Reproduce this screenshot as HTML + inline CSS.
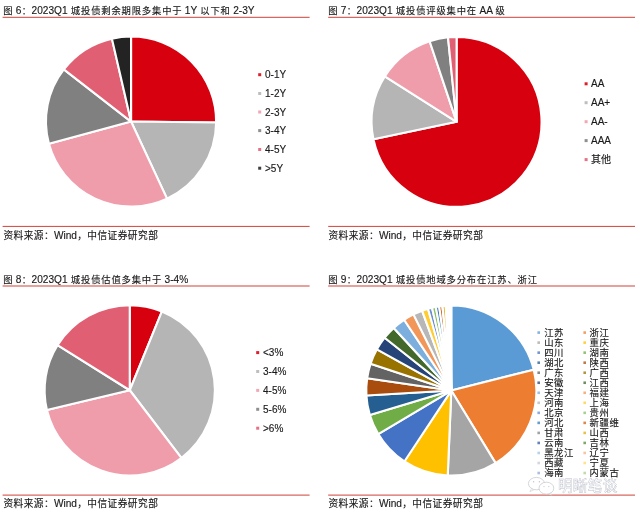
<!DOCTYPE html>
<html lang="zh-CN"><head><meta charset="utf-8"><title>城投债</title>
<style>
html,body{margin:0;padding:0;background:#fff;}
svg{display:block}
text{font-family:"Liberation Sans","Noto Sans CJK SC",sans-serif;}
</style></head>
<body>
<svg width="640" height="514" viewBox="0 0 640 514">
<rect width="640" height="514" fill="#fff"/>
<g stroke="#fff" stroke-width="2.1" stroke-linejoin="round">
<path d="M131.05 121.55L131.05 36.45A85.10 85.10 0 0 1 216.15 122.44Z" fill="#d7000f"/>
<path d="M131.05 121.55L216.15 122.44A85.10 85.10 0 0 1 167.01 198.68Z" fill="#b5b5b5"/>
<path d="M131.05 121.55L167.01 198.68A85.10 85.10 0 0 1 48.93 143.86Z" fill="#ef9cab"/>
<path d="M131.05 121.55L48.93 143.86A85.10 85.10 0 0 1 63.81 69.39Z" fill="#808080"/>
<path d="M131.05 121.55L63.81 69.39A85.10 85.10 0 0 1 111.91 38.63Z" fill="#e15f73"/>
<path d="M131.05 121.55L111.91 38.63A85.10 85.10 0 0 1 131.05 36.45Z" fill="#232323"/>
</g>
<g stroke="#fff" stroke-width="2.1" stroke-linejoin="round">
<path d="M456.60 121.80L456.60 36.85A84.95 84.95 0 1 1 373.45 139.17Z" fill="#d7000f"/>
<path d="M456.60 121.80L373.45 139.17A84.95 84.95 0 0 1 384.80 76.41Z" fill="#b5b5b5"/>
<path d="M456.60 121.80L384.80 76.41A84.95 84.95 0 0 1 429.64 41.24Z" fill="#ef9cab"/>
<path d="M456.60 121.80L429.64 41.24A84.95 84.95 0 0 1 448.02 37.28Z" fill="#808080"/>
<path d="M456.60 121.80L448.02 37.28A84.95 84.95 0 0 1 456.60 36.85Z" fill="#e15f73"/>
</g>
<g stroke="#fff" stroke-width="2.1" stroke-linejoin="round">
<path d="M129.75 390.25L129.75 305.10A85.15 85.15 0 0 1 161.92 311.41Z" fill="#d7000f"/>
<path d="M129.75 390.25L161.92 311.41A85.15 85.15 0 0 1 181.35 457.98Z" fill="#b5b5b5"/>
<path d="M129.75 390.25L181.35 457.98A85.15 85.15 0 0 1 46.92 409.98Z" fill="#ef9cab"/>
<path d="M129.75 390.25L46.92 409.98A85.15 85.15 0 0 1 57.54 345.13Z" fill="#808080"/>
<path d="M129.75 390.25L57.54 345.13A85.15 85.15 0 0 1 129.75 305.10Z" fill="#e15f73"/>
</g>
<g stroke="#fff" stroke-width="2.1" stroke-linejoin="round">
<path d="M451.30 390.55L451.30 305.50A85.05 85.05 0 0 1 533.75 369.69Z" fill="#5b9bd5"/>
<path d="M451.30 390.55L533.75 369.69A85.05 85.05 0 0 1 495.61 463.14Z" fill="#ed7d31"/>
<path d="M451.30 390.55L495.61 463.14A85.05 85.05 0 0 1 447.74 475.53Z" fill="#a5a5a5"/>
<path d="M451.30 390.55L447.74 475.53A85.05 85.05 0 0 1 404.36 461.47Z" fill="#ffc000"/>
<path d="M451.30 390.55L404.36 461.47A85.05 85.05 0 0 1 378.25 434.10Z" fill="#4472c4"/>
<path d="M451.30 390.55L378.25 434.10A85.05 85.05 0 0 1 369.84 414.99Z" fill="#70ad47"/>
<path d="M451.30 390.55L369.84 414.99A85.05 85.05 0 0 1 366.39 395.45Z" fill="#255e91"/>
<path d="M451.30 390.55L366.39 395.45A85.05 85.05 0 0 1 367.14 378.27Z" fill="#a84d0e"/>
<path d="M451.30 390.55L367.14 378.27A85.05 85.05 0 0 1 370.60 363.70Z" fill="#636363"/>
<path d="M451.30 390.55L370.60 363.70A85.05 85.05 0 0 1 376.91 349.32Z" fill="#997300"/>
<path d="M451.30 390.55L376.91 349.32A85.05 85.05 0 0 1 384.65 337.72Z" fill="#264478"/>
<path d="M451.30 390.55L384.65 337.72A85.05 85.05 0 0 1 393.73 327.94Z" fill="#43682b"/>
<path d="M451.30 390.55L393.73 327.94A85.05 85.05 0 0 1 404.11 319.79Z" fill="#7cafdd"/>
<path d="M451.30 390.55L404.11 319.79A85.05 85.05 0 0 1 413.48 314.37Z" fill="#f1975a"/>
<path d="M451.30 390.55L413.48 314.37A85.05 85.05 0 0 1 422.07 310.68Z" fill="#b7b7b7"/>
<path d="M451.30 390.55L422.07 310.68A85.05 85.05 0 0 1 428.00 308.75Z" fill="#ffcd33"/>
<path d="M451.30 390.55L428.00 308.75A85.05 85.05 0 0 1 432.02 307.71Z" fill="#698ed0"/>
<path d="M451.30 390.55L432.02 307.71A85.05 85.05 0 0 1 435.80 306.92Z" fill="#8cc168"/>
<path d="M451.30 390.55L435.80 306.92A85.05 85.05 0 0 1 439.17 306.37Z" fill="#327dc2"/>
<path d="M451.30 390.55L439.17 306.37A85.05 85.05 0 0 1 442.41 305.97Z" fill="#d26012"/>
<path d="M451.30 390.55L442.41 305.97A85.05 85.05 0 0 1 442.56 305.95Z" fill="#848484"/>
<path d="M451.30 390.55L442.56 305.95A85.05 85.05 0 0 1 445.66 305.69Z" fill="#e0ad10"/>
<path d="M451.30 390.55L445.66 305.69A85.05 85.05 0 0 1 446.70 305.62Z" fill="#335aa1"/>
<path d="M451.30 390.55L446.70 305.62A85.05 85.05 0 0 1 447.59 305.58Z" fill="#5a8a39"/>
<path d="M451.30 390.55L447.59 305.58A85.05 85.05 0 0 1 448.33 305.55Z" fill="#9dc3e6"/>
<path d="M451.30 390.55L448.33 305.55A85.05 85.05 0 0 1 449.07 305.53Z" fill="#f4b183"/>
<path d="M451.30 390.55L449.07 305.53A85.05 85.05 0 0 1 449.67 305.52Z" fill="#c9c9c9"/>
<path d="M451.30 390.55L449.67 305.52A85.05 85.05 0 0 1 450.26 305.51Z" fill="#ffd966"/>
<path d="M451.30 390.55L450.26 305.51A85.05 85.05 0 0 1 450.85 305.50Z" fill="#8faadc"/>
<path d="M451.30 390.55L450.85 305.50A85.05 85.05 0 0 1 451.30 305.50Z" fill="#a9d18e"/>
</g>
<g stroke="#cf4238" stroke-width="1"><line x1="2.6" y1="17.3" x2="309.6" y2="17.3"/><line x1="2.6" y1="226.4" x2="309.6" y2="226.4"/><line x1="2.6" y1="286.0" x2="309.6" y2="286.0"/><line x1="2.6" y1="495.1" x2="309.6" y2="495.1"/><line x1="328.2" y1="17.3" x2="635" y2="17.3"/><line x1="328.2" y1="226.4" x2="635" y2="226.4"/><line x1="328.2" y1="286.0" x2="635" y2="286.0"/><line x1="328.2" y1="495.1" x2="635" y2="495.1"/></g>
<g fill="#1a1a1a" stroke="#1a1a1a" stroke-width="0.14"><text x="2.8" y="14.4" font-size="10.15" ><tspan font-size="9.3" letter-spacing="0.85" dx="0.42" dy="-0.3">图</tspan><tspan dx="-0.42" dy="0.3"> 6</tspan><tspan font-size="9.3" letter-spacing="0.85" dx="0.42" dy="-0.3">：</tspan><tspan dx="-0.42" dy="0.3">2023Q1 </tspan><tspan font-size="9.3" letter-spacing="0.85" dx="0.42" dy="-0.3">城投债剩余期限多集中于</tspan><tspan dx="-0.42" dy="0.3"> 1Y </tspan><tspan font-size="9.3" letter-spacing="0.85" dx="0.42" dy="-0.3">以下和</tspan><tspan dx="-0.42" dy="0.3"> 2-3Y</tspan></text>
<text x="327.8" y="14.4" font-size="10.15" ><tspan font-size="9.3" letter-spacing="0.85" dx="0.42" dy="-0.3">图</tspan><tspan dx="-0.42" dy="0.3"> 7</tspan><tspan font-size="9.3" letter-spacing="0.85" dx="0.42" dy="-0.3">：</tspan><tspan dx="-0.42" dy="0.3">2023Q1 </tspan><tspan font-size="9.3" letter-spacing="0.85" dx="0.42" dy="-0.3">城投债评级集中在</tspan><tspan dx="-0.42" dy="0.3"> AA </tspan><tspan font-size="9.3" letter-spacing="0.85" dx="0.42" dy="-0.3">级</tspan></text>
<text x="2.8" y="283.2" font-size="10.15" ><tspan font-size="9.3" letter-spacing="0.85" dx="0.42" dy="-0.3">图</tspan><tspan dx="-0.42" dy="0.3"> 8</tspan><tspan font-size="9.3" letter-spacing="0.85" dx="0.42" dy="-0.3">：</tspan><tspan dx="-0.42" dy="0.3">2023Q1 </tspan><tspan font-size="9.3" letter-spacing="0.85" dx="0.42" dy="-0.3">城投债估值多集中于</tspan><tspan dx="-0.42" dy="0.3"> 3-4%</tspan></text>
<text x="327.8" y="283.2" font-size="10.15" ><tspan font-size="9.3" letter-spacing="0.85" dx="0.42" dy="-0.3">图</tspan><tspan dx="-0.42" dy="0.3"> 9</tspan><tspan font-size="9.3" letter-spacing="0.85" dx="0.42" dy="-0.3">：</tspan><tspan dx="-0.42" dy="0.3">2023Q1 </tspan><tspan font-size="9.3" letter-spacing="0.85" dx="0.42" dy="-0.3">城投债地域多分布在江苏、浙江</tspan></text>
<text x="3.2" y="239.3" font-size="10.15" ><tspan font-size="9.7" letter-spacing="0.45" dx="0.23" dy="-0.3">资料来源：</tspan><tspan dx="-0.23" dy="0.3">Wind</tspan><tspan font-size="9.7" letter-spacing="0.45" dx="0.23" dy="-0.3">，中信证券研究部</tspan></text>
<text x="3.2" y="507.2" font-size="10.15" ><tspan font-size="9.7" letter-spacing="0.45" dx="0.23" dy="-0.3">资料来源：</tspan><tspan dx="-0.23" dy="0.3">Wind</tspan><tspan font-size="9.7" letter-spacing="0.45" dx="0.23" dy="-0.3">，中信证券研究部</tspan></text>
<text x="328.2" y="239.3" font-size="10.15" ><tspan font-size="9.7" letter-spacing="0.45" dx="0.23" dy="-0.3">资料来源：</tspan><tspan dx="-0.23" dy="0.3">Wind</tspan><tspan font-size="9.7" letter-spacing="0.45" dx="0.23" dy="-0.3">，中信证券研究部</tspan></text>
<text x="328.2" y="507.2" font-size="10.15" ><tspan font-size="9.7" letter-spacing="0.45" dx="0.23" dy="-0.3">资料来源：</tspan><tspan dx="-0.23" dy="0.3">Wind</tspan><tspan font-size="9.7" letter-spacing="0.45" dx="0.23" dy="-0.3">，中信证券研究部</tspan></text>
<rect x="258.2" y="73.20" width="3" height="3" fill="#d7000f" fill-opacity="0.88" stroke="none"/><text x="265" y="78.30" font-size="10.0" >0-1Y</text><rect x="258.2" y="92.00" width="3" height="3" fill="#b5b5b5" fill-opacity="0.88" stroke="none"/><text x="265" y="97.10" font-size="10.0" >1-2Y</text><rect x="258.2" y="110.50" width="3" height="3" fill="#ef9cab" fill-opacity="0.88" stroke="none"/><text x="265" y="115.60" font-size="10.0" >2-3Y</text><rect x="258.2" y="129.10" width="3" height="3" fill="#808080" fill-opacity="0.88" stroke="none"/><text x="265" y="134.20" font-size="10.0" >3-4Y</text><rect x="258.2" y="148.00" width="3" height="3" fill="#e15f73" fill-opacity="0.88" stroke="none"/><text x="265" y="153.10" font-size="10.0" >4-5Y</text><rect x="258.2" y="166.70" width="3" height="3" fill="#232323" fill-opacity="0.88" stroke="none"/><text x="265" y="171.80" font-size="10.0" >&gt;5Y</text>
<rect x="584.6" y="82.30" width="3" height="3" fill="#d7000f" fill-opacity="0.88" stroke="none"/><text x="591" y="87.40" font-size="10.0" >AA</text><rect x="584.6" y="101.20" width="3" height="3" fill="#b5b5b5" fill-opacity="0.88" stroke="none"/><text x="591" y="106.30" font-size="10.0" >AA+</text><rect x="584.6" y="120.20" width="3" height="3" fill="#ef9cab" fill-opacity="0.88" stroke="none"/><text x="591" y="125.30" font-size="10.0" >AA-</text><rect x="584.6" y="139.10" width="3" height="3" fill="#808080" fill-opacity="0.88" stroke="none"/><text x="591" y="144.20" font-size="10.0" >AAA</text><rect x="584.6" y="158.10" width="3" height="3" fill="#e15f73" fill-opacity="0.88" stroke="none"/><text x="591" y="163.20" font-size="10.0" >其他</text>
<rect x="256.2" y="351.10" width="3" height="3" fill="#d7000f" fill-opacity="0.88" stroke="none"/><text x="263" y="356.20" font-size="10.0" >&lt;3%</text><rect x="256.2" y="370.00" width="3" height="3" fill="#b5b5b5" fill-opacity="0.88" stroke="none"/><text x="263" y="375.10" font-size="10.0" >3-4%</text><rect x="256.2" y="388.90" width="3" height="3" fill="#ef9cab" fill-opacity="0.88" stroke="none"/><text x="263" y="394.00" font-size="10.0" >4-5%</text><rect x="256.2" y="407.80" width="3" height="3" fill="#808080" fill-opacity="0.88" stroke="none"/><text x="263" y="412.90" font-size="10.0" >5-6%</text><rect x="256.2" y="426.70" width="3" height="3" fill="#e15f73" fill-opacity="0.88" stroke="none"/><text x="263" y="431.80" font-size="10.0" >&gt;6%</text>
<rect x="537.4" y="331.30" width="2.6" height="2.6" fill="#5b9bd5" fill-opacity="0.75" stroke="none"/>
<text x="544.2" y="336.00" font-size="9.4" letter-spacing="0.55">江苏</text>
<rect x="583.4" y="331.30" width="2.6" height="2.6" fill="#ed7d31" fill-opacity="0.75" stroke="none"/>
<text x="589.6" y="336.00" font-size="9.4" letter-spacing="0.55">浙江</text>
<rect x="537.4" y="341.33" width="2.6" height="2.6" fill="#a5a5a5" fill-opacity="0.75" stroke="none"/>
<text x="544.2" y="346.03" font-size="9.4" letter-spacing="0.55">山东</text>
<rect x="583.4" y="341.33" width="2.6" height="2.6" fill="#ffc000" fill-opacity="0.75" stroke="none"/>
<text x="589.6" y="346.03" font-size="9.4" letter-spacing="0.55">重庆</text>
<rect x="537.4" y="351.36" width="2.6" height="2.6" fill="#4472c4" fill-opacity="0.75" stroke="none"/>
<text x="544.2" y="356.06" font-size="9.4" letter-spacing="0.55">四川</text>
<rect x="583.4" y="351.36" width="2.6" height="2.6" fill="#70ad47" fill-opacity="0.75" stroke="none"/>
<text x="589.6" y="356.06" font-size="9.4" letter-spacing="0.55">湖南</text>
<rect x="537.4" y="361.39" width="2.6" height="2.6" fill="#255e91" fill-opacity="0.75" stroke="none"/>
<text x="544.2" y="366.09" font-size="9.4" letter-spacing="0.55">湖北</text>
<rect x="583.4" y="361.39" width="2.6" height="2.6" fill="#a84d0e" fill-opacity="0.75" stroke="none"/>
<text x="589.6" y="366.09" font-size="9.4" letter-spacing="0.55">陕西</text>
<rect x="537.4" y="371.42" width="2.6" height="2.6" fill="#636363" fill-opacity="0.75" stroke="none"/>
<text x="544.2" y="376.12" font-size="9.4" letter-spacing="0.55">广东</text>
<rect x="583.4" y="371.42" width="2.6" height="2.6" fill="#997300" fill-opacity="0.75" stroke="none"/>
<text x="589.6" y="376.12" font-size="9.4" letter-spacing="0.55">广西</text>
<rect x="537.4" y="381.45" width="2.6" height="2.6" fill="#264478" fill-opacity="0.75" stroke="none"/>
<text x="544.2" y="386.15" font-size="9.4" letter-spacing="0.55">安徽</text>
<rect x="583.4" y="381.45" width="2.6" height="2.6" fill="#43682b" fill-opacity="0.75" stroke="none"/>
<text x="589.6" y="386.15" font-size="9.4" letter-spacing="0.55">江西</text>
<rect x="537.4" y="391.48" width="2.6" height="2.6" fill="#7cafdd" fill-opacity="0.75" stroke="none"/>
<text x="544.2" y="396.18" font-size="9.4" letter-spacing="0.55">天津</text>
<rect x="583.4" y="391.48" width="2.6" height="2.6" fill="#f1975a" fill-opacity="0.75" stroke="none"/>
<text x="589.6" y="396.18" font-size="9.4" letter-spacing="0.55">福建</text>
<rect x="537.4" y="401.51" width="2.6" height="2.6" fill="#b7b7b7" fill-opacity="0.75" stroke="none"/>
<text x="544.2" y="406.21" font-size="9.4" letter-spacing="0.55">河南</text>
<rect x="583.4" y="401.51" width="2.6" height="2.6" fill="#ffcd33" fill-opacity="0.75" stroke="none"/>
<text x="589.6" y="406.21" font-size="9.4" letter-spacing="0.55">上海</text>
<rect x="537.4" y="411.54" width="2.6" height="2.6" fill="#698ed0" fill-opacity="0.75" stroke="none"/>
<text x="544.2" y="416.24" font-size="9.4" letter-spacing="0.55">北京</text>
<rect x="583.4" y="411.54" width="2.6" height="2.6" fill="#8cc168" fill-opacity="0.75" stroke="none"/>
<text x="589.6" y="416.24" font-size="9.4" letter-spacing="0.55">贵州</text>
<rect x="537.4" y="421.57" width="2.6" height="2.6" fill="#327dc2" fill-opacity="0.75" stroke="none"/>
<text x="544.2" y="426.27" font-size="9.4" letter-spacing="0.55">河北</text>
<rect x="583.4" y="421.57" width="2.6" height="2.6" fill="#d26012" fill-opacity="0.75" stroke="none"/>
<text x="589.6" y="426.27" font-size="9.4" letter-spacing="0.55">新疆维</text>
<rect x="537.4" y="431.60" width="2.6" height="2.6" fill="#848484" fill-opacity="0.75" stroke="none"/>
<text x="544.2" y="436.30" font-size="9.4" letter-spacing="0.55">甘肃</text>
<rect x="583.4" y="431.60" width="2.6" height="2.6" fill="#e0ad10" fill-opacity="0.75" stroke="none"/>
<text x="589.6" y="436.30" font-size="9.4" letter-spacing="0.55">山西</text>
<rect x="537.4" y="441.63" width="2.6" height="2.6" fill="#335aa1" fill-opacity="0.75" stroke="none"/>
<text x="544.2" y="446.33" font-size="9.4" letter-spacing="0.55">云南</text>
<rect x="583.4" y="441.63" width="2.6" height="2.6" fill="#5a8a39" fill-opacity="0.75" stroke="none"/>
<text x="589.6" y="446.33" font-size="9.4" letter-spacing="0.55">吉林</text>
<rect x="537.4" y="451.66" width="2.6" height="2.6" fill="#9dc3e6" fill-opacity="0.75" stroke="none"/>
<text x="544.2" y="456.36" font-size="9.4" letter-spacing="0.55">黑龙江</text>
<rect x="583.4" y="451.66" width="2.6" height="2.6" fill="#f4b183" fill-opacity="0.75" stroke="none"/>
<text x="589.6" y="456.36" font-size="9.4" letter-spacing="0.55">辽宁</text>
<rect x="537.4" y="461.69" width="2.6" height="2.6" fill="#c9c9c9" fill-opacity="0.75" stroke="none"/>
<text x="544.2" y="466.39" font-size="9.4" letter-spacing="0.55">西藏</text>
<rect x="583.4" y="461.69" width="2.6" height="2.6" fill="#ffd966" fill-opacity="0.75" stroke="none"/>
<text x="589.6" y="466.39" font-size="9.4" letter-spacing="0.55">宁夏</text>
<rect x="537.4" y="471.72" width="2.6" height="2.6" fill="#8faadc" fill-opacity="0.75" stroke="none"/>
<text x="544.2" y="476.42" font-size="9.4" letter-spacing="0.55">海南</text>
<rect x="583.4" y="471.72" width="2.6" height="2.6" fill="#a9d18e" fill-opacity="0.75" stroke="none"/>
<text x="589.6" y="476.42" font-size="9.4" letter-spacing="0.55">内蒙古</text></g>
<g fill="#fff" stroke="#c2c4cc" stroke-width="0.7">
<ellipse cx="536.4" cy="483.6" rx="8" ry="6.2"/>
<path d="M531.5 488.6l-1.6 3 3.6-1.6z" stroke-width="0.5"/>
<ellipse cx="546.4" cy="488.2" rx="7.4" ry="6"/>
<path d="M550.6 493l1.4 2.2-3.2-1z" stroke-width="0.5"/>
<circle cx="533.6" cy="481.8" r="0.7" fill="#c2c4cc" stroke="none"/>
<circle cx="539.4" cy="481.8" r="0.7" fill="#c2c4cc" stroke="none"/>
<circle cx="544" cy="486.6" r="0.6" fill="#c2c4cc" stroke="none"/>
<circle cx="548.8" cy="486.6" r="0.6" fill="#c2c4cc" stroke="none"/>
</g>
<text x="558" y="491.4" font-size="14.8" fill="#fff" stroke="#b9bdc8" stroke-width="0.4" font-weight="500">明晰笔谈</text>
</svg>
</body></html>
